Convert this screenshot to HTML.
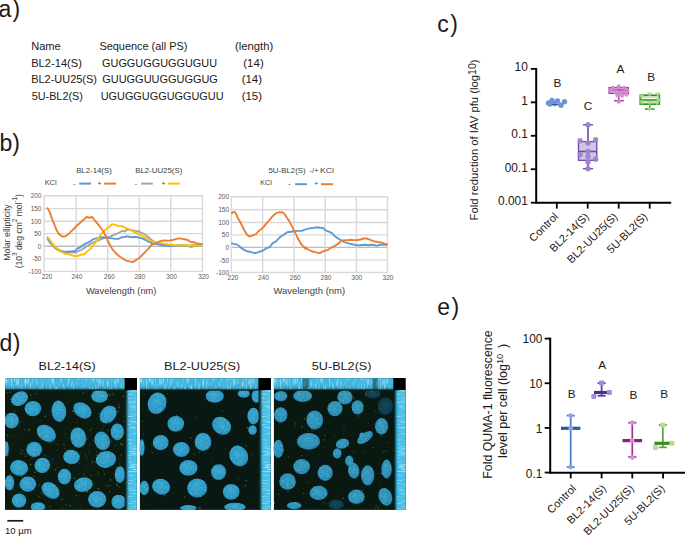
<!DOCTYPE html><html><head><meta charset="utf-8"><style>html,body{margin:0;padding:0;background:#fff;overflow:hidden}svg{display:block}</style></head><body><svg width="685" height="536" viewBox="0 0 685 536" font-family='"Liberation Sans", sans-serif'><rect width="685" height="536" fill="#fff"/><text x="-1.5" y="16.8" font-size="23" fill="#231815">a<tspan dx="1.3">)</tspan></text><text x="-0.5" y="151.3" font-size="23" fill="#231815">b<tspan dx="0">)</tspan></text><text x="437.3" y="31.6" font-size="23" fill="#231815">c<tspan dx="1.4">)</tspan></text><text x="-0.5" y="350.7" font-size="23" fill="#231815">d<tspan dx="0.5">)</tspan></text><text x="437.3" y="314.8" font-size="23" fill="#231815">e<tspan dx="1.5">)</tspan></text><text x="31.21" y="50.1" font-size="10.4" textLength="29.51" lengthAdjust="spacingAndGlyphs" fill="#231815" >Name</text><text x="99.41" y="50.1" font-size="10.4" textLength="88.01" lengthAdjust="spacingAndGlyphs" fill="#231815" >Sequence (all PS)</text><text x="235.13" y="50.1" font-size="10.4" textLength="38.06" lengthAdjust="spacingAndGlyphs" fill="#231815" >(length)</text><text x="31.21" y="66.9" font-size="10.4" textLength="50.69" lengthAdjust="spacingAndGlyphs" fill="#231815" >BL2-14(S)</text><text x="102.06" y="66.9" font-size="10.4" textLength="114.97" lengthAdjust="spacingAndGlyphs" fill="#231815" >GUGGUGGUGGUGUU</text><text x="243.31" y="66.9" font-size="10.4" textLength="20.42" lengthAdjust="spacingAndGlyphs" fill="#231815" >(14)</text><text x="31.22" y="83.3" font-size="10.4" textLength="65.76" lengthAdjust="spacingAndGlyphs" fill="#231815" >BL2-UU25(S)</text><text x="102.25" y="83.3" font-size="10.4" textLength="115.62" lengthAdjust="spacingAndGlyphs" fill="#231815" >GUUGGUUGGUGGUG</text><text x="241.71" y="83.3" font-size="10.4" textLength="20.31" lengthAdjust="spacingAndGlyphs" fill="#231815" >(14)</text><text x="31.67" y="100.2" font-size="10.4" textLength="51.23" lengthAdjust="spacingAndGlyphs" fill="#231815" >5U-BL2(S)</text><text x="100.68" y="100.2" font-size="10.4" textLength="122.86" lengthAdjust="spacingAndGlyphs" fill="#231815" >UGUGGUGGUGGUGUU</text><text x="241.71" y="100.2" font-size="10.4" textLength="20.31" lengthAdjust="spacingAndGlyphs" fill="#231815" >(15)</text><line x1="43.4" y1="195.80" x2="203.1" y2="195.80" stroke="#d9d9d9" stroke-width="1.4"/><line x1="43.4" y1="208.65" x2="203.1" y2="208.65" stroke="#d9d9d9" stroke-width="1.4"/><line x1="43.4" y1="221.25" x2="203.1" y2="221.25" stroke="#d9d9d9" stroke-width="1.4"/><line x1="43.4" y1="233.65" x2="203.1" y2="233.65" stroke="#d9d9d9" stroke-width="1.4"/><line x1="43.4" y1="246.25" x2="203.1" y2="246.25" stroke="#bdbdbd" stroke-width="1.4"/><line x1="43.4" y1="258.90" x2="203.1" y2="258.90" stroke="#d9d9d9" stroke-width="1.4"/><line x1="43.4" y1="271.35" x2="203.1" y2="271.35" stroke="#d9d9d9" stroke-width="1.4"/><line x1="44.10" y1="195.8" x2="44.10" y2="271.35" stroke="#d9d9d9" stroke-width="1.4"/><line x1="76.20" y1="195.8" x2="76.20" y2="271.35" stroke="#d9d9d9" stroke-width="1.4"/><line x1="107.70" y1="195.8" x2="107.70" y2="271.35" stroke="#d9d9d9" stroke-width="1.4"/><line x1="139.25" y1="195.8" x2="139.25" y2="271.35" stroke="#d9d9d9" stroke-width="1.4"/><line x1="170.70" y1="195.8" x2="170.70" y2="271.35" stroke="#d9d9d9" stroke-width="1.4"/><line x1="202.40" y1="195.8" x2="202.40" y2="271.35" stroke="#d9d9d9" stroke-width="1.4"/><text x="41.4" y="198.20" font-size="6.4" fill="#595959" text-anchor="end">200</text><text x="41.4" y="211.05" font-size="6.4" fill="#595959" text-anchor="end">150</text><text x="41.4" y="223.65" font-size="6.4" fill="#595959" text-anchor="end">100</text><text x="41.4" y="236.05" font-size="6.4" fill="#595959" text-anchor="end">50</text><text x="41.4" y="248.65" font-size="6.4" fill="#595959" text-anchor="end">0</text><text x="41.4" y="261.30" font-size="6.4" fill="#595959" text-anchor="end">-50</text><text x="41.4" y="273.75" font-size="6.4" fill="#595959" text-anchor="end">-100</text><text x="47.10" y="279.3" font-size="6.4" fill="#595959" text-anchor="middle">220</text><text x="76.90" y="279.3" font-size="6.4" fill="#595959" text-anchor="middle">240</text><text x="109.40" y="279.3" font-size="6.4" fill="#595959" text-anchor="middle">260</text><text x="139.90" y="279.3" font-size="6.4" fill="#595959" text-anchor="middle">280</text><text x="171.50" y="279.3" font-size="6.4" fill="#595959" text-anchor="middle">300</text><text x="203.50" y="279.3" font-size="6.4" fill="#595959" text-anchor="middle">320</text><line x1="230.70000000000002" y1="196.80" x2="388.2" y2="196.80" stroke="#d9d9d9" stroke-width="1.4"/><line x1="230.70000000000002" y1="209.80" x2="388.2" y2="209.80" stroke="#d9d9d9" stroke-width="1.4"/><line x1="230.70000000000002" y1="222.50" x2="388.2" y2="222.50" stroke="#d9d9d9" stroke-width="1.4"/><line x1="230.70000000000002" y1="234.90" x2="388.2" y2="234.90" stroke="#d9d9d9" stroke-width="1.4"/><line x1="230.70000000000002" y1="247.40" x2="388.2" y2="247.40" stroke="#bdbdbd" stroke-width="1.4"/><line x1="230.70000000000002" y1="260.10" x2="388.2" y2="260.10" stroke="#d9d9d9" stroke-width="1.4"/><line x1="230.70000000000002" y1="272.50" x2="388.2" y2="272.50" stroke="#d9d9d9" stroke-width="1.4"/><line x1="231.40" y1="196.8" x2="231.40" y2="272.5" stroke="#d9d9d9" stroke-width="1.4"/><line x1="262.70" y1="196.8" x2="262.70" y2="272.5" stroke="#d9d9d9" stroke-width="1.4"/><line x1="294.00" y1="196.8" x2="294.00" y2="272.5" stroke="#d9d9d9" stroke-width="1.4"/><line x1="325.20" y1="196.8" x2="325.20" y2="272.5" stroke="#d9d9d9" stroke-width="1.4"/><line x1="356.40" y1="196.8" x2="356.40" y2="272.5" stroke="#d9d9d9" stroke-width="1.4"/><line x1="387.50" y1="196.8" x2="387.50" y2="272.5" stroke="#d9d9d9" stroke-width="1.4"/><text x="229.2" y="199.20" font-size="6.6" fill="#595959" text-anchor="end">200</text><text x="229.2" y="212.20" font-size="6.6" fill="#595959" text-anchor="end">150</text><text x="229.2" y="224.90" font-size="6.6" fill="#595959" text-anchor="end">100</text><text x="229.2" y="237.30" font-size="6.6" fill="#595959" text-anchor="end">50</text><text x="229.2" y="249.80" font-size="6.6" fill="#595959" text-anchor="end">0</text><text x="229.2" y="262.50" font-size="6.6" fill="#595959" text-anchor="end">-50</text><text x="229.2" y="274.90" font-size="6.6" fill="#595959" text-anchor="end">-100</text><text x="233.00" y="280.4" font-size="6.6" fill="#595959" text-anchor="middle">220</text><text x="263.40" y="280.4" font-size="6.6" fill="#595959" text-anchor="middle">240</text><text x="295.30" y="280.4" font-size="6.6" fill="#595959" text-anchor="middle">260</text><text x="326.00" y="280.4" font-size="6.6" fill="#595959" text-anchor="middle">280</text><text x="356.80" y="280.4" font-size="6.6" fill="#595959" text-anchor="middle">300</text><text x="388.00" y="280.4" font-size="6.6" fill="#595959" text-anchor="middle">320</text><polyline points="47.14,238.37 49.51,242.33 52.69,245.82 55.86,248.67 59.03,250.74 62.2,251.85 65.37,252.32 68.54,252.32 71.72,252.32 74.89,252.64 78.06,251.05 81.23,249.94 84.4,247.88 87.57,245.82 90.75,243.92 93.92,242.01 97.09,240.75 100.26,239.64 103.43,238.37 106.6,237.57 109.77,236.94 112.95,235.2 116.12,234.08 119.29,232.5 122.46,230.91 124.92,231.55 126.34,229.96 129.51,229.64 132.69,230.44 135.86,230.91 139.03,231.55 142.2,233.13 145.37,234.72 148.54,237.26 151.72,239.95 154.89,242.33 158.06,243.6 161.23,244.23 164.4,245.19 167.57,245.5 172.33,245.5 177.09,245.19 183.43,245.5 189.77,245.82 194.53,244.71 199.29,244.23 202.46,244.71" fill="none" stroke="#a5a5a5" stroke-width="1.9" stroke-linejoin="round"/><polyline points="47.14,236.78 49.51,240.75 52.69,244.71 55.86,247.88 59.03,249.94 62.2,251.05 65.37,251.85 68.54,251.53 71.72,251.53 74.89,251.05 77.27,248.67 80.44,247.09 83.61,244.71 86.78,243.12 89.95,241.54 93.12,239.16 96.3,238.37 99.47,237.57 102.64,237.26 105.81,237.57 108.98,238.05 112.15,238.37 115.33,238.84 118.5,238.84 121.67,237.26 124.92,237.1 126.34,236.31 129.51,236.78 132.69,237.26 135.86,236.78 139.03,237.57 142.2,238.37 145.37,239.95 148.54,241.54 151.72,243.12 154.89,243.92 158.06,244.39 161.23,245.19 164.4,245.5 167.57,245.82 170.75,245.98 175.5,245.5 180.26,245.5 186.6,245.82 191.36,246.77 194.53,245.82 199.29,245.5 202.46,245.5" fill="none" stroke="#5b9bd5" stroke-width="1.9" stroke-linejoin="round"/><polyline points="47.14,237.26 49.51,239.16 52.69,243.92 55.86,247.41 59.03,249.94 62.2,252.32 65.37,253.91 68.54,254.22 71.72,255.02 74.89,256.29 78.06,255.81 81.23,254.7 84.4,254.22 87.57,251.05 90.75,248.67 93.92,244.71 97.09,239.95 100.26,235.2 103.43,231.55 106.6,228.85 109.77,226.47 112.15,224.09 115.33,224.89 118.5,226.16 121.67,226.16 124.92,227.58 126.34,228.06 129.51,229.33 132.69,231.23 135.86,232.82 139.03,234.4 142.2,235.99 145.37,237.57 148.54,239.48 151.72,241.06 154.89,242.01 158.06,242.65 161.23,243.12 164.4,243.6 167.57,244.23 172.33,244.71 177.09,245.19 183.43,245.19 189.77,245.82 192.95,245.5 196.12,245.19 199.29,245.5 202.46,245.82" fill="none" stroke="#ffc000" stroke-width="1.9" stroke-linejoin="round"/><polyline points="47.14,207.44 49.51,211.41 51.89,218.54 54.27,224.09 56.65,230.44 59.03,234.08 62.2,236.46 65.37,236.31 68.54,234.08 71.72,230.91 74.89,227.74 77.27,225.2 80.44,222.51 83.61,219.81 86.46,216.96 89.16,217.75 92.33,216.96 94.71,220.45 97.09,222.98 100.26,227.27 103.43,231.55 105.81,235.99 108.19,241.54 110.57,246.3 112.95,249.94 116.12,253.43 119.29,256.29 122.46,258.19 124.92,260.09 126.34,260.57 129.51,261.36 132.69,262.15 135.86,260.09 139.03,258.19 142.2,255.02 145.37,251.85 148.54,248.67 151.72,244.71 154.09,243.6 157.27,242.65 160.44,241.06 163.61,240.43 166.78,240.75 169.95,240.43 173.12,239.95 176.3,238.84 179.47,238.37 182.64,238.84 185.81,239.48 188.98,240.75 191.36,242.33 193.74,242.01 196.12,243.12 199.29,243.6 202.46,243.92" fill="none" stroke="#ed7d31" stroke-width="1.9" stroke-linejoin="round"/><polyline points="231.34,243.12 233.72,243.92 236.1,244.23 238.48,245.5 240.86,247.41 243.24,249.47 245.62,250.58 247.99,251.53 250.37,251.85 252.75,252.64 255.13,252.96 257.51,252.32 259.89,251.53 262.27,251.05 264.64,249.47 267.02,247.88 269.4,247.41 270.99,245.5 272.57,243.12 275.75,241.54 278.12,239.16 280.5,236.78 282.88,235.2 285.26,233.61 287.64,232.02 290.02,232.02 292.4,231.55 294.77,231.23 297.15,230.91 299.53,230.91 301.91,230.91 304.29,229.96 305.0,229.64 307.38,228.85 309.76,228.38 312.93,228.06 316.89,227.27 320.07,227.74 323.24,228.06 325.62,230.44 328.79,231.55 331.96,233.13 334.34,235.67 336.72,237.57 339.89,239.48 343.06,241.54 346.23,242.65 349.4,243.6 352.57,244.23 355.75,245.19 360.5,245.19 365.26,244.71 368.43,245.19 371.6,244.71 374.77,245.19 377.15,245.82 379.53,244.71 382.7,244.71 385.88,244.87 387.46,245.19" fill="none" stroke="#5b9bd5" stroke-width="1.9" stroke-linejoin="round"/><polyline points="231.34,213.79 232.93,212.2 234.51,211.88 236.1,213.79 237.69,217.75 240.07,221.72 242.44,226.47 244.82,231.23 247.2,234.88 248.79,236.31 251.17,235.99 253.54,235.2 255.92,234.08 258.3,231.55 261.47,228.85 263.85,226.79 266.23,223.62 269.4,220.13 272.57,216.17 275.75,213.47 278.92,212.2 282.09,212.2 284.47,213.79 286.85,217.75 289.22,220.92 291.6,225.68 293.98,230.44 296.36,235.2 298.74,239.95 301.12,243.92 303.5,246.77 305.88,248.99 305.0,247.09 307.38,248.99 309.76,250.26 312.93,251.53 316.1,252.32 320.07,253.11 322.44,251.53 324.82,250.58 327.2,250.26 329.58,248.67 331.96,247.09 335.13,245.82 338.3,243.6 341.47,240.75 344.64,240.11 347.82,240.11 350.99,239.79 354.16,240.11 357.33,239.95 360.5,239.48 363.67,238.53 366.05,238.37 368.43,239.16 371.6,240.43 374.77,241.54 377.95,242.01 381.12,242.33 384.29,243.6 387.46,244.23" fill="none" stroke="#ed7d31" stroke-width="1.9" stroke-linejoin="round"/><text x="76.17" y="172.9" font-size="7.4" textLength="35.62" lengthAdjust="spacingAndGlyphs" fill="#404040" >BL2-14(S)</text><text x="135.17" y="172.9" font-size="7.4" textLength="47.12" lengthAdjust="spacingAndGlyphs" fill="#404040" >BL2-UU25(S)</text><text x="268.48" y="173.1" font-size="7.4" textLength="37.22" lengthAdjust="spacingAndGlyphs" fill="#404040" >5U-BL2(S)</text><text x="309.55" y="173.1" font-size="7.4" textLength="9.23" lengthAdjust="spacingAndGlyphs" fill="#404040" >-/+</text><text x="320.01" y="173.1" font-size="7.4" textLength="13.97" lengthAdjust="spacingAndGlyphs" fill="#404040" >KCl</text><text x="44.71" y="185.4" font-size="6.6" textLength="11.88" lengthAdjust="spacingAndGlyphs" fill="#404040" >KCl</text><text x="260.33" y="185.2" font-size="6.6" textLength="11.55" lengthAdjust="spacingAndGlyphs" fill="#404040" >KCl</text><text x="74.2" y="185.6" font-size="6.8" fill="#404040" text-anchor="middle">-</text><line x1="79.2" y1="183.6" x2="91" y2="183.6" stroke="#5b9bd5" stroke-width="2"/><text x="99.5" y="185.6" font-size="6.8" fill="#404040" text-anchor="middle">+</text><line x1="104.2" y1="183.6" x2="116" y2="183.6" stroke="#ed7d31" stroke-width="2"/><text x="136" y="185.6" font-size="6.8" fill="#404040" text-anchor="middle">-</text><line x1="141.1" y1="183.6" x2="152.8" y2="183.6" stroke="#a5a5a5" stroke-width="2"/><text x="163.4" y="185.6" font-size="6.8" fill="#404040" text-anchor="middle">+</text><line x1="168" y1="183.6" x2="179.7" y2="183.6" stroke="#ffc000" stroke-width="2"/><text x="289.3" y="186.2" font-size="6.8" fill="#404040" text-anchor="middle">-</text><line x1="295.2" y1="184.2" x2="307" y2="184.2" stroke="#5b9bd5" stroke-width="2"/><text x="316.3" y="186.2" font-size="6.8" fill="#404040" text-anchor="middle">+</text><line x1="321" y1="184.2" x2="332.9" y2="184.2" stroke="#ed7d31" stroke-width="2"/><text x="85.95" y="294.2" font-size="9.2" textLength="70.52" lengthAdjust="spacingAndGlyphs" fill="#404040" >Wavelength (nm)</text><text x="273.45" y="293.6" font-size="9.2" textLength="71.63" lengthAdjust="spacingAndGlyphs" fill="#404040" >Wavelength (nm)</text><text transform="translate(9.8,232.6) rotate(-90)" font-size="8.6" fill="#404040" text-anchor="middle">Molar ellipticity</text><text transform="translate(22.1,231.2) rotate(-90)" font-size="8.5" fill="#404040" text-anchor="middle">(10<tspan font-size="6.4" dy="-4.8">3</tspan><tspan dy="4.8"> deg cm</tspan><tspan font-size="6.4" dy="-4.8">2</tspan><tspan dy="4.8"> mol</tspan><tspan font-size="6.4" dy="-4.8">-1</tspan><tspan dy="4.8">)</tspan></text><line x1="536.2" y1="67.9" x2="536.2" y2="203.7" stroke="#000" stroke-width="2"/><line x1="535.2" y1="202.7" x2="671.2" y2="202.7" stroke="#000" stroke-width="2"/><line x1="530.8" y1="68.90" x2="536.2" y2="68.90" stroke="#000" stroke-width="1.8"/><text x="527.8" y="71.40" font-size="11.9" fill="#231815" text-anchor="end">10</text><line x1="530.8" y1="102.35" x2="536.2" y2="102.35" stroke="#000" stroke-width="1.8"/><text x="527.8" y="104.85" font-size="11.9" fill="#231815" text-anchor="end">1</text><line x1="530.8" y1="135.80" x2="536.2" y2="135.80" stroke="#000" stroke-width="1.8"/><text x="527.8" y="138.30" font-size="11.9" fill="#231815" text-anchor="end">0.1</text><line x1="530.8" y1="169.25" x2="536.2" y2="169.25" stroke="#000" stroke-width="1.8"/><text x="527.8" y="171.75" font-size="11.9" fill="#231815" text-anchor="end">00.1</text><line x1="530.8" y1="202.70" x2="536.2" y2="202.70" stroke="#000" stroke-width="1.8"/><text x="527.8" y="205.20" font-size="11.9" fill="#231815" text-anchor="end">0.001</text><line x1="556.8" y1="202.7" x2="556.8" y2="208.6" stroke="#000" stroke-width="1.8"/><line x1="587.7" y1="202.7" x2="587.7" y2="208.6" stroke="#000" stroke-width="1.8"/><line x1="618.7" y1="202.7" x2="618.7" y2="208.6" stroke="#000" stroke-width="1.8"/><line x1="649.7" y1="202.7" x2="649.7" y2="208.6" stroke="#000" stroke-width="1.8"/><text transform="translate(558.70,217.3) rotate(-45)" font-size="11.0" fill="#231815" text-anchor="end">Control</text><text transform="translate(589.50,217.3) rotate(-45)" font-size="11.0" fill="#231815" text-anchor="end">BL2-14(S)</text><text transform="translate(618.20,217.3) rotate(-45)" font-size="11.0" fill="#231815" text-anchor="end">BL2-UU25(S)</text><text transform="translate(648.10,217.3) rotate(-45)" font-size="11.0" fill="#231815" text-anchor="end">5U-BL2(S)</text><text transform="translate(478,139.9) rotate(-90)" font-size="11.3" fill="#231815" text-anchor="middle">Fold reduction of IAV pfu (log<tspan font-size="10.6" dy="-2.2">10</tspan><tspan dy="2.2">)</tspan></text><text x="557.5" y="86.9" font-size="11.8" fill="#231815" text-anchor="middle">B</text><text x="587.9" y="109.6" font-size="11.8" fill="#231815" text-anchor="middle">C</text><text x="620.5" y="72.7" font-size="11.8" fill="#231815" text-anchor="middle">A</text><text x="651.2" y="80.8" font-size="11.8" fill="#231815" text-anchor="middle">B</text><circle cx="548.5" cy="103" r="2.7" fill="#6f93d0"/><circle cx="552" cy="100.5" r="2.7" fill="#6f93d0"/><circle cx="557.5" cy="101" r="2.7" fill="#6f93d0"/><circle cx="561" cy="105.3" r="2.7" fill="#6f93d0"/><circle cx="564.5" cy="101.8" r="2.7" fill="#6f93d0"/><circle cx="555" cy="103.5" r="2.7" fill="#6f93d0"/><circle cx="550" cy="104" r="2.7" fill="#6f93d0"/><line x1="552" y1="104.6" x2="558.5" y2="104.6" stroke="#2d4f96" stroke-width="1"/><line x1="588" y1="124.8" x2="588" y2="168.7" stroke="#6a4aa8" stroke-width="1.6"/><rect x="578.5" y="141.6" width="18.3" height="18.7" fill="#d3c5ea" stroke="#6a4aa8" stroke-width="1.3"/><line x1="578.5" y1="151.5" x2="596.8" y2="151.5" stroke="#6a4aa8" stroke-width="1.6"/><line x1="583" y1="124.8" x2="593" y2="124.8" stroke="#6a4aa8" stroke-width="1.4"/><line x1="583" y1="168.7" x2="593" y2="168.7" stroke="#6a4aa8" stroke-width="1.4"/><circle cx="588" cy="124.8" r="2.7" fill="#9d82cc" opacity="0.95"/><circle cx="580.1" cy="140.7" r="2.7" fill="#9d82cc" opacity="0.95"/><circle cx="588" cy="143.1" r="2.7" fill="#9d82cc" opacity="0.95"/><circle cx="595.6" cy="139.7" r="2.7" fill="#9d82cc" opacity="0.95"/><circle cx="588" cy="151.5" r="2.7" fill="#9d82cc" opacity="0.95"/><circle cx="580.1" cy="154.7" r="2.7" fill="#9d82cc" opacity="0.95"/><circle cx="588" cy="156.5" r="2.7" fill="#9d82cc" opacity="0.95"/><circle cx="595.6" cy="159.3" r="2.7" fill="#9d82cc" opacity="0.95"/><circle cx="588" cy="162.1" r="2.7" fill="#9d82cc" opacity="0.95"/><circle cx="588" cy="168.7" r="2.7" fill="#9d82cc" opacity="0.95"/><rect x="609" y="87.5" width="19.5" height="6" fill="#d9a2d7" stroke="#a8399f" stroke-width="1.1"/><line x1="609" y1="90" x2="628.5" y2="90" stroke="#a8399f" stroke-width="1.4"/><line x1="618.7" y1="93.5" x2="618.7" y2="100.7" stroke="#a8399f" stroke-width="1.4"/><line x1="614" y1="100.7" x2="624" y2="100.7" stroke="#a8399f" stroke-width="1.4"/><circle cx="613" cy="88" r="2.2" fill="#cf8ccc" opacity="0.9"/><circle cx="618.7" cy="86.5" r="2.2" fill="#cf8ccc" opacity="0.9"/><circle cx="624" cy="88" r="2.2" fill="#cf8ccc" opacity="0.9"/><circle cx="627" cy="90.5" r="2.2" fill="#cf8ccc" opacity="0.9"/><circle cx="611" cy="90.5" r="2.2" fill="#cf8ccc" opacity="0.9"/><circle cx="616" cy="92" r="2.2" fill="#cf8ccc" opacity="0.9"/><circle cx="621" cy="92.5" r="2.2" fill="#cf8ccc" opacity="0.9"/><circle cx="618.7" cy="101.5" r="2.2" fill="#cf8ccc" opacity="0.9"/><circle cx="617.5" cy="95.3" r="2.2" fill="#cf8ccc" opacity="0.9"/><circle cx="622" cy="95.5" r="2.2" fill="#cf8ccc" opacity="0.9"/><circle cx="626.5" cy="94.5" r="2.2" fill="#cf8ccc" opacity="0.9"/><rect x="640.2" y="95.2" width="19.2" height="9" fill="#c8eab0" stroke="#3f8f30" stroke-width="1.6"/><line x1="641" y1="98.6" x2="659" y2="98.6" stroke="#eef9e6" stroke-width="1"/><line x1="641" y1="100" x2="659" y2="100" stroke="#3f8f30" stroke-width="1.5"/><line x1="649.7" y1="104.2" x2="649.7" y2="109" stroke="#3f8f30" stroke-width="1.4"/><line x1="645" y1="109" x2="654.5" y2="109" stroke="#3f8f30" stroke-width="1.6"/><path d="M647.1,92.6 L652.3000000000001,92.6 L649.7,97.0 Z" fill="#a6d98a" opacity="0.95"/><path d="M655.1999999999999,92.6 L660.4,92.6 L657.8,97.0 Z" fill="#a6d98a" opacity="0.95"/><path d="M638.9,95 L644.1,95 L641.5,99.4 Z" fill="#a6d98a" opacity="0.95"/><path d="M655.9,98.5 L661.1,98.5 L658.5,102.9 Z" fill="#a6d98a" opacity="0.95"/><path d="M638.9,100.5 L644.1,100.5 L641.5,104.9 Z" fill="#a6d98a" opacity="0.95"/><path d="M647.1,101.2 L652.3000000000001,101.2 L649.7,105.60000000000001 Z" fill="#a6d98a" opacity="0.95"/><path d="M654.4,101.5 L659.6,101.5 L657,105.9 Z" fill="#a6d98a" opacity="0.95"/><path d="M647.1,107.4 L652.3000000000001,107.4 L649.7,111.80000000000001 Z" fill="#a6d98a" opacity="0.95"/><line x1="550.2" y1="337.6" x2="550.2" y2="473.5" stroke="#000" stroke-width="2"/><line x1="549.2" y1="472.8" x2="685" y2="472.8" stroke="#000" stroke-width="2"/><line x1="544.7" y1="338.60" x2="550.2" y2="338.60" stroke="#000" stroke-width="1.8"/><text x="542.4" y="342.6" font-size="11.9" fill="#231815" text-anchor="end">100</text><line x1="544.7" y1="383.25" x2="550.2" y2="383.25" stroke="#000" stroke-width="1.8"/><text x="542.4" y="388.0" font-size="11.9" fill="#231815" text-anchor="end">10</text><line x1="544.7" y1="427.90" x2="550.2" y2="427.90" stroke="#000" stroke-width="1.8"/><text x="542.4" y="432.9" font-size="11.9" fill="#231815" text-anchor="end">1</text><line x1="544.7" y1="472.55" x2="550.2" y2="472.55" stroke="#000" stroke-width="1.8"/><text x="542.4" y="477.7" font-size="11.9" fill="#231815" text-anchor="end">0.1</text><line x1="570.7" y1="472.8" x2="570.7" y2="478.4" stroke="#000" stroke-width="1.8"/><line x1="601.6" y1="472.8" x2="601.6" y2="478.4" stroke="#000" stroke-width="1.8"/><line x1="632.3" y1="472.8" x2="632.3" y2="478.4" stroke="#000" stroke-width="1.8"/><line x1="663.1" y1="472.8" x2="663.1" y2="478.4" stroke="#000" stroke-width="1.8"/><text transform="translate(576.70,489.2) rotate(-45)" font-size="11.0" fill="#231815" text-anchor="end">Control</text><text transform="translate(606.80,489.2) rotate(-45)" font-size="11.0" fill="#231815" text-anchor="end">BL2-14(S)</text><text transform="translate(634.60,489.2) rotate(-45)" font-size="11.0" fill="#231815" text-anchor="end">BL2-UU25(S)</text><text transform="translate(665.40,489.2) rotate(-45)" font-size="11.0" fill="#231815" text-anchor="end">5U-BL2(S)</text><text transform="translate(491.5,404.5) rotate(-90)" font-size="12.3" fill="#231815" text-anchor="middle">Fold QUMA-1 fluorescence</text><text transform="translate(507.4,400.8) rotate(-90)" font-size="12.5" fill="#231815" text-anchor="middle">level per cell (log<tspan font-size="9.4" dy="-4.3">10</tspan><tspan dy="4.3" dx="2.3"> )</tspan></text><text x="571.6" y="398" font-size="11.8" fill="#231815" text-anchor="middle">B</text><text x="602.1" y="368.5" font-size="11.8" fill="#231815" text-anchor="middle">A</text><text x="633.5" y="399.2" font-size="11.8" fill="#231815" text-anchor="middle">B</text><text x="664.3" y="398" font-size="11.8" fill="#231815" text-anchor="middle">B</text><line x1="570.7" y1="415.6" x2="570.7" y2="467.1" stroke="#4a7bc4" stroke-width="1.7"/><line x1="566.7" y1="415.6" x2="574.7" y2="415.6" stroke="#4a7bc4" stroke-width="1.7"/><line x1="566.7" y1="467.1" x2="574.7" y2="467.1" stroke="#4a7bc4" stroke-width="1.7"/><line x1="561.0" y1="428.3" x2="580.4000000000001" y2="428.3" stroke="#2b589e" stroke-width="3.2"/><circle cx="570.7" cy="415.6" r="2.4" fill="#86a9de"/><circle cx="570.7" cy="428.3" r="2.4" fill="#86a9de"/><circle cx="570.7" cy="467.1" r="2.4" fill="#86a9de"/><line x1="601.6" y1="383" x2="601.6" y2="395.8" stroke="#5a34a0" stroke-width="1.7"/><line x1="597.6" y1="383" x2="605.6" y2="383" stroke="#5a34a0" stroke-width="1.7"/><line x1="597.6" y1="395.8" x2="605.6" y2="395.8" stroke="#5a34a0" stroke-width="1.7"/><line x1="594.0" y1="392.5" x2="609.2" y2="392.5" stroke="#4f2a96" stroke-width="3.2"/><rect x="599.1" y="380.5" width="5" height="5" rx="1" fill="#a58cd6"/><rect x="606.9" y="390.0" width="5" height="5" rx="1" fill="#a58cd6"/><rect x="591.3" y="394.0" width="5" height="5" rx="1" fill="#a58cd6"/><line x1="632.3" y1="422.7" x2="632.3" y2="457" stroke="#a0309c" stroke-width="1.7"/><line x1="628.3" y1="422.7" x2="636.3" y2="422.7" stroke="#a0309c" stroke-width="1.7"/><line x1="628.3" y1="457" x2="636.3" y2="457" stroke="#a0309c" stroke-width="1.7"/><line x1="622.5" y1="440.6" x2="642.0999999999999" y2="440.6" stroke="#8a1f88" stroke-width="3.2"/><circle cx="632.3" cy="422.7" r="2.4" fill="#d590d4"/><circle cx="632.3" cy="440.6" r="2.4" fill="#d590d4"/><circle cx="632.3" cy="457.5" r="2.4" fill="#d590d4"/><line x1="662.8" y1="425" x2="662.8" y2="447.4" stroke="#58a03c" stroke-width="1.7"/><line x1="658.8" y1="425" x2="666.8" y2="425" stroke="#58a03c" stroke-width="1.7"/><line x1="658.8" y1="447.4" x2="666.8" y2="447.4" stroke="#58a03c" stroke-width="1.7"/><line x1="654.4" y1="443.3" x2="671.1999999999999" y2="443.3" stroke="#3d8a2a" stroke-width="3.2"/><rect x="660.3" y="422.5" width="5" height="5" rx="1" fill="#b4e08c"/><rect x="669.5" y="440.8" width="5" height="5" rx="1" fill="#b4e08c"/><rect x="652.9" y="445.1" width="5" height="5" rx="1" fill="#b4e08c"/><defs><radialGradient id="nuc" cx="0.45" cy="0.42" r="0.62"><stop offset="0" stop-color="#32a3ce"/><stop offset="0.75" stop-color="#2996c2"/><stop offset="1" stop-color="#1e80ac"/></radialGradient><radialGradient id="nuc3" cx="0.45" cy="0.42" r="0.62"><stop offset="0" stop-color="#3099c0"/><stop offset="0.75" stop-color="#278bb2"/><stop offset="1" stop-color="#1b7398"/></radialGradient><radialGradient id="nucd" cx="0.5" cy="0.5" r="0.6"><stop offset="0" stop-color="#114b5e"/><stop offset="1" stop-color="#0d3544"/></radialGradient><linearGradient id="tops" x1="0" y1="0" x2="0" y2="1"><stop offset="0" stop-color="#1f6f8c"/><stop offset="0.07" stop-color="#46b9e0"/><stop offset="0.6" stop-color="#42b4dc"/><stop offset="0.8" stop-color="#2f9fc8"/><stop offset="0.93" stop-color="#0f3a3a"/><stop offset="1" stop-color="#0b1b12"/></linearGradient><linearGradient id="rts" x1="0" y1="0" x2="1" y2="0"><stop offset="0" stop-color="#0b1b12"/><stop offset="0.12" stop-color="#113a3e"/><stop offset="0.25" stop-color="#2b9cc6"/><stop offset="0.4" stop-color="#48bce3"/><stop offset="0.92" stop-color="#4dc1e6"/><stop offset="1" stop-color="#2a8fb8"/></linearGradient><filter id="grain" x="0" y="0" width="1" height="1"><feTurbulence type="fractalNoise" baseFrequency="0.45" numOctaves="2" seed="4"/><feColorMatrix values="0 0 0 0 0.75  0 0 0 0 0.95  0 0 0 0 1  2.2 0 0 0 -0.9"/><feComposite in2="SourceGraphic" operator="in"/></filter><filter id="spk" x="0" y="0" width="1" height="1"><feTurbulence type="fractalNoise" baseFrequency="0.32" numOctaves="1" seed="11"/><feColorMatrix values="0 0 0 0 0.55  0 0 0 0 0.55  0 0 0 0 0.1  6 0 0 0 -3.75"/></filter><filter id="vst" x="0" y="0" width="1" height="1"><feTurbulence type="fractalNoise" baseFrequency="0.75 0.12" numOctaves="2" seed="5"/><feColorMatrix values="0 0 0 0 0.8  0 0 0 0 0.96  0 0 0 0 1  3.2 0 0 0 -1.55"/></filter><filter id="hst" x="0" y="0" width="1" height="1"><feTurbulence type="fractalNoise" baseFrequency="0.12 0.75" numOctaves="2" seed="8"/><feColorMatrix values="0 0 0 0 0.8  0 0 0 0 0.96  0 0 0 0 1  3.2 0 0 0 -1.55"/></filter><filter id="soft"><feGaussianBlur stdDeviation="0.35"/></filter></defs><svg x="5" y="377.9" width="132" height="132" viewBox="0 0 132 132" overflow="hidden"><rect width="132" height="132" fill="#0b1b12"/><g filter="url(#soft)"><ellipse cx="14.6" cy="20.7" rx="8.93" ry="6.84" transform="rotate(-30 14.6 20.7)" fill="url(#nuc)"/><ellipse cx="28" cy="30.7" rx="8.36" ry="7.60" transform="rotate(0 28 30.7)" fill="url(#nuc)"/><ellipse cx="53.9" cy="33.3" rx="7.22" ry="10.73" transform="rotate(-5 53.9 33.3)" fill="url(#nuc)"/><ellipse cx="77.4" cy="32.5" rx="9.97" ry="7.22" transform="rotate(35 77.4 32.5)" fill="url(#nuc)"/><ellipse cx="94.7" cy="18.2" rx="8.36" ry="6.65" transform="rotate(0 94.7 18.2)" fill="url(#nuc)"/><ellipse cx="103.1" cy="36.7" rx="7.60" ry="9.79" transform="rotate(40 103.1 36.7)" fill="url(#nuc)"/><ellipse cx="6.6" cy="42.8" rx="7.22" ry="7.89" transform="rotate(0 6.6 42.8)" fill="url(#nuc)"/><ellipse cx="41.3" cy="55.4" rx="10.45" ry="7.60" transform="rotate(35 41.3 55.4)" fill="url(#nuc)"/><ellipse cx="73.3" cy="59.7" rx="7.89" ry="10.26" transform="rotate(-10 73.3 59.7)" fill="url(#nuc)"/><ellipse cx="97.2" cy="63" rx="7.60" ry="9.50" transform="rotate(-20 97.2 63)" fill="url(#nuc)"/><ellipse cx="112.3" cy="53.9" rx="6.65" ry="8.36" transform="rotate(0 112.3 53.9)" fill="url(#nuc)"/><ellipse cx="29.2" cy="71.5" rx="7.89" ry="7.60" transform="rotate(0 29.2 71.5)" fill="url(#nuc)"/><ellipse cx="66.5" cy="79.1" rx="8.36" ry="7.22" transform="rotate(10 66.5 79.1)" fill="url(#nuc)"/><ellipse cx="101" cy="81.6" rx="10.26" ry="8.36" transform="rotate(-10 101 81.6)" fill="url(#nuc)"/><ellipse cx="14.1" cy="90" rx="9.12" ry="7.89" transform="rotate(10 14.1 90)" fill="url(#nuc)"/><ellipse cx="37.3" cy="87.4" rx="7.89" ry="7.60" transform="rotate(-20 37.3 87.4)" fill="url(#nuc)"/><ellipse cx="59.5" cy="98.8" rx="6.65" ry="7.89" transform="rotate(0 59.5 98.8)" fill="url(#nuc)"/><ellipse cx="78.3" cy="106.8" rx="9.50" ry="7.22" transform="rotate(-10 78.3 106.8)" fill="url(#nuc)"/><ellipse cx="114.9" cy="96.7" rx="5.22" ry="8.36" transform="rotate(0 114.9 96.7)" fill="url(#nuc)"/><ellipse cx="4.5" cy="105" rx="4.75" ry="7.60" transform="rotate(0 4.5 105)" fill="url(#nuc)"/><ellipse cx="22.9" cy="106.3" rx="8.36" ry="7.60" transform="rotate(0 22.9 106.3)" fill="url(#nuc)"/><ellipse cx="45.6" cy="112.6" rx="9.97" ry="7.22" transform="rotate(40 45.6 112.6)" fill="url(#nuc)"/><ellipse cx="14.1" cy="122.7" rx="7.22" ry="7.22" transform="rotate(0 14.1 122.7)" fill="url(#nuc)"/><ellipse cx="33" cy="129" rx="7.22" ry="4.75" transform="rotate(0 33 129)" fill="url(#nuc)"/><ellipse cx="92.2" cy="121.4" rx="9.12" ry="8.36" transform="rotate(0 92.2 121.4)" fill="url(#nuc)"/><ellipse cx="113.6" cy="124" rx="7.22" ry="7.22" transform="rotate(0 113.6 124)" fill="url(#nuc)"/><ellipse cx="1" cy="71" rx="2.85" ry="7.60" transform="rotate(0 1 71)" fill="url(#nuc)"/></g><g opacity="0.2" filter="url(#grain)"><ellipse cx="14.6" cy="20.7" rx="8.93" ry="6.84" transform="rotate(-30 14.6 20.7)" fill="#fff"/><ellipse cx="28" cy="30.7" rx="8.36" ry="7.60" transform="rotate(0 28 30.7)" fill="#fff"/><ellipse cx="53.9" cy="33.3" rx="7.22" ry="10.73" transform="rotate(-5 53.9 33.3)" fill="#fff"/><ellipse cx="77.4" cy="32.5" rx="9.97" ry="7.22" transform="rotate(35 77.4 32.5)" fill="#fff"/><ellipse cx="94.7" cy="18.2" rx="8.36" ry="6.65" transform="rotate(0 94.7 18.2)" fill="#fff"/><ellipse cx="103.1" cy="36.7" rx="7.60" ry="9.79" transform="rotate(40 103.1 36.7)" fill="#fff"/><ellipse cx="6.6" cy="42.8" rx="7.22" ry="7.89" transform="rotate(0 6.6 42.8)" fill="#fff"/><ellipse cx="41.3" cy="55.4" rx="10.45" ry="7.60" transform="rotate(35 41.3 55.4)" fill="#fff"/><ellipse cx="73.3" cy="59.7" rx="7.89" ry="10.26" transform="rotate(-10 73.3 59.7)" fill="#fff"/><ellipse cx="97.2" cy="63" rx="7.60" ry="9.50" transform="rotate(-20 97.2 63)" fill="#fff"/><ellipse cx="112.3" cy="53.9" rx="6.65" ry="8.36" transform="rotate(0 112.3 53.9)" fill="#fff"/><ellipse cx="29.2" cy="71.5" rx="7.89" ry="7.60" transform="rotate(0 29.2 71.5)" fill="#fff"/><ellipse cx="66.5" cy="79.1" rx="8.36" ry="7.22" transform="rotate(10 66.5 79.1)" fill="#fff"/><ellipse cx="101" cy="81.6" rx="10.26" ry="8.36" transform="rotate(-10 101 81.6)" fill="#fff"/><ellipse cx="14.1" cy="90" rx="9.12" ry="7.89" transform="rotate(10 14.1 90)" fill="#fff"/><ellipse cx="37.3" cy="87.4" rx="7.89" ry="7.60" transform="rotate(-20 37.3 87.4)" fill="#fff"/><ellipse cx="59.5" cy="98.8" rx="6.65" ry="7.89" transform="rotate(0 59.5 98.8)" fill="#fff"/><ellipse cx="78.3" cy="106.8" rx="9.50" ry="7.22" transform="rotate(-10 78.3 106.8)" fill="#fff"/><ellipse cx="114.9" cy="96.7" rx="5.22" ry="8.36" transform="rotate(0 114.9 96.7)" fill="#fff"/><ellipse cx="4.5" cy="105" rx="4.75" ry="7.60" transform="rotate(0 4.5 105)" fill="#fff"/><ellipse cx="22.9" cy="106.3" rx="8.36" ry="7.60" transform="rotate(0 22.9 106.3)" fill="#fff"/><ellipse cx="45.6" cy="112.6" rx="9.97" ry="7.22" transform="rotate(40 45.6 112.6)" fill="#fff"/><ellipse cx="14.1" cy="122.7" rx="7.22" ry="7.22" transform="rotate(0 14.1 122.7)" fill="#fff"/><ellipse cx="33" cy="129" rx="7.22" ry="4.75" transform="rotate(0 33 129)" fill="#fff"/><ellipse cx="92.2" cy="121.4" rx="9.12" ry="8.36" transform="rotate(0 92.2 121.4)" fill="#fff"/><ellipse cx="113.6" cy="124" rx="7.22" ry="7.22" transform="rotate(0 113.6 124)" fill="#fff"/><ellipse cx="1" cy="71" rx="2.85" ry="7.60" transform="rotate(0 1 71)" fill="#fff"/></g><circle cx="16.0" cy="113.8" r="0.76" fill="#a09a22" opacity="0.35"/><circle cx="59.0" cy="66.5" r="0.71" fill="#a09a22" opacity="0.57"/><circle cx="11.2" cy="16.4" r="0.78" fill="#a09a22" opacity="0.42"/><circle cx="90.7" cy="13.3" r="0.63" fill="#a09a22" opacity="0.54"/><circle cx="27.2" cy="125.5" r="0.81" fill="#a09a22" opacity="0.26"/><circle cx="3.0" cy="77.4" r="0.83" fill="#a09a22" opacity="0.40"/><circle cx="25.8" cy="63.2" r="0.46" fill="#a09a22" opacity="0.34"/><circle cx="52.1" cy="72.0" r="0.54" fill="#a09a22" opacity="0.34"/><circle cx="26.0" cy="67.7" r="0.57" fill="#a09a22" opacity="0.26"/><circle cx="99.7" cy="79.2" r="0.71" fill="#a09a22" opacity="0.32"/><circle cx="118.1" cy="115.3" r="0.50" fill="#a09a22" opacity="0.38"/><circle cx="85.9" cy="97.6" r="0.82" fill="#a09a22" opacity="0.42"/><circle cx="98.8" cy="92.8" r="0.57" fill="#a09a22" opacity="0.49"/><circle cx="105.0" cy="113.7" r="0.65" fill="#a09a22" opacity="0.49"/><circle cx="4.1" cy="41.9" r="0.77" fill="#a09a22" opacity="0.42"/><circle cx="20.6" cy="78.3" r="0.73" fill="#a09a22" opacity="0.52"/><circle cx="44.6" cy="65.2" r="0.65" fill="#a09a22" opacity="0.56"/><circle cx="62.0" cy="59.8" r="0.65" fill="#a09a22" opacity="0.26"/><circle cx="5.2" cy="96.7" r="0.84" fill="#a09a22" opacity="0.49"/><circle cx="46.8" cy="33.3" r="0.65" fill="#a09a22" opacity="0.64"/><circle cx="91.7" cy="77.2" r="0.79" fill="#a09a22" opacity="0.34"/><circle cx="61.1" cy="126.3" r="0.68" fill="#a09a22" opacity="0.43"/><circle cx="32.0" cy="78.2" r="0.83" fill="#a09a22" opacity="0.25"/><circle cx="93.3" cy="110.6" r="0.80" fill="#a09a22" opacity="0.55"/><circle cx="96.3" cy="74.7" r="0.67" fill="#a09a22" opacity="0.42"/><circle cx="6.7" cy="116.5" r="0.68" fill="#a09a22" opacity="0.33"/><circle cx="60.1" cy="70.7" r="0.59" fill="#a09a22" opacity="0.39"/><circle cx="64.1" cy="87.2" r="0.69" fill="#a09a22" opacity="0.43"/><circle cx="3.3" cy="40.3" r="0.52" fill="#a09a22" opacity="0.48"/><circle cx="102.5" cy="108.0" r="0.77" fill="#a09a22" opacity="0.58"/><circle cx="30.4" cy="113.2" r="0.72" fill="#a09a22" opacity="0.28"/><circle cx="2.0" cy="14.7" r="0.75" fill="#a09a22" opacity="0.35"/><circle cx="13.0" cy="87.4" r="0.59" fill="#a09a22" opacity="0.28"/><circle cx="19.0" cy="75.8" r="0.52" fill="#a09a22" opacity="0.36"/><circle cx="84.7" cy="67.1" r="0.58" fill="#a09a22" opacity="0.44"/><circle cx="2.8" cy="59.0" r="0.62" fill="#a09a22" opacity="0.33"/><circle cx="12.9" cy="120.1" r="0.65" fill="#a09a22" opacity="0.33"/><circle cx="72.1" cy="110.2" r="0.46" fill="#a09a22" opacity="0.26"/><circle cx="17.4" cy="98.5" r="0.51" fill="#a09a22" opacity="0.53"/><circle cx="80.7" cy="77.8" r="0.54" fill="#a09a22" opacity="0.64"/><circle cx="94.9" cy="74.5" r="0.54" fill="#a09a22" opacity="0.51"/><circle cx="47.0" cy="81.5" r="0.58" fill="#a09a22" opacity="0.50"/><circle cx="7.0" cy="48.5" r="0.84" fill="#a09a22" opacity="0.60"/><circle cx="36.5" cy="115.2" r="0.57" fill="#a09a22" opacity="0.63"/><circle cx="88.5" cy="62.5" r="0.55" fill="#a09a22" opacity="0.25"/><circle cx="104.6" cy="17.5" r="0.78" fill="#a09a22" opacity="0.63"/><circle cx="67.9" cy="33.4" r="0.80" fill="#a09a22" opacity="0.64"/><circle cx="83.8" cy="73.6" r="0.60" fill="#a09a22" opacity="0.39"/><circle cx="24.5" cy="93.2" r="0.62" fill="#a09a22" opacity="0.33"/><circle cx="12.4" cy="92.2" r="0.57" fill="#a09a22" opacity="0.45"/><circle cx="38.7" cy="116.7" r="0.81" fill="#a09a22" opacity="0.26"/><circle cx="23.9" cy="52.0" r="0.84" fill="#a09a22" opacity="0.56"/><circle cx="40.4" cy="38.4" r="0.72" fill="#a09a22" opacity="0.59"/><circle cx="110.9" cy="53.9" r="0.80" fill="#a09a22" opacity="0.52"/><circle cx="57.7" cy="130.3" r="0.54" fill="#a09a22" opacity="0.54"/><circle cx="10.1" cy="33.2" r="0.81" fill="#a09a22" opacity="0.34"/><circle cx="90.3" cy="84.4" r="0.79" fill="#a09a22" opacity="0.40"/><circle cx="40.5" cy="47.7" r="0.80" fill="#a09a22" opacity="0.49"/><circle cx="113.6" cy="118.6" r="0.50" fill="#a09a22" opacity="0.47"/><circle cx="12.4" cy="17.7" r="0.48" fill="#a09a22" opacity="0.60"/><circle cx="93.8" cy="111.6" r="0.59" fill="#a09a22" opacity="0.50"/><circle cx="93.0" cy="58.0" r="0.68" fill="#a09a22" opacity="0.34"/><circle cx="9.7" cy="44.7" r="0.81" fill="#a09a22" opacity="0.48"/><circle cx="110.1" cy="67.5" r="0.56" fill="#a09a22" opacity="0.56"/><circle cx="98.5" cy="14.5" r="0.72" fill="#a09a22" opacity="0.29"/><circle cx="13.7" cy="118.3" r="0.47" fill="#a09a22" opacity="0.35"/><circle cx="117.6" cy="63.1" r="0.50" fill="#a09a22" opacity="0.32"/><circle cx="28.7" cy="101.5" r="0.49" fill="#a09a22" opacity="0.61"/><circle cx="45.0" cy="128.5" r="0.81" fill="#a09a22" opacity="0.37"/><circle cx="30.2" cy="69.8" r="0.49" fill="#a09a22" opacity="0.51"/><circle cx="4.7" cy="14.3" r="0.84" fill="#a09a22" opacity="0.37"/><circle cx="71.0" cy="66.5" r="0.58" fill="#a09a22" opacity="0.28"/><circle cx="108.7" cy="128.4" r="0.84" fill="#a09a22" opacity="0.29"/><circle cx="25.6" cy="86.5" r="0.84" fill="#a09a22" opacity="0.47"/><circle cx="81.9" cy="91.8" r="0.55" fill="#a09a22" opacity="0.47"/><circle cx="36.6" cy="42.3" r="0.48" fill="#a09a22" opacity="0.36"/><circle cx="117.0" cy="66.3" r="0.71" fill="#a09a22" opacity="0.51"/><circle cx="111.9" cy="59.5" r="0.57" fill="#a09a22" opacity="0.38"/><circle cx="37.7" cy="113.8" r="0.81" fill="#a09a22" opacity="0.37"/><circle cx="39.8" cy="77.8" r="0.68" fill="#a09a22" opacity="0.49"/><circle cx="29.2" cy="15.4" r="0.55" fill="#a09a22" opacity="0.28"/><circle cx="65.6" cy="21.4" r="0.48" fill="#a09a22" opacity="0.50"/><circle cx="34.6" cy="107.3" r="0.65" fill="#a09a22" opacity="0.60"/><circle cx="18.3" cy="72.7" r="0.77" fill="#a09a22" opacity="0.28"/><circle cx="113.0" cy="33.6" r="0.76" fill="#a09a22" opacity="0.64"/><circle cx="97.8" cy="51.1" r="0.49" fill="#a09a22" opacity="0.46"/><circle cx="109.4" cy="47.9" r="0.81" fill="#a09a22" opacity="0.31"/><circle cx="108.3" cy="16.8" r="0.58" fill="#a09a22" opacity="0.61"/><circle cx="95.7" cy="121.0" r="0.79" fill="#a09a22" opacity="0.55"/><circle cx="82.1" cy="34.2" r="0.62" fill="#a09a22" opacity="0.31"/><circle cx="85.1" cy="92.5" r="0.55" fill="#a09a22" opacity="0.28"/><circle cx="114.6" cy="109.2" r="0.67" fill="#a09a22" opacity="0.47"/><circle cx="101.3" cy="66.9" r="0.61" fill="#a09a22" opacity="0.39"/><circle cx="30.7" cy="15.9" r="0.71" fill="#a09a22" opacity="0.42"/><circle cx="67.9" cy="20.4" r="0.59" fill="#a09a22" opacity="0.31"/><circle cx="14.9" cy="43.8" r="0.78" fill="#a09a22" opacity="0.41"/><circle cx="47.7" cy="85.9" r="0.54" fill="#a09a22" opacity="0.25"/><circle cx="62.9" cy="72.6" r="0.71" fill="#a09a22" opacity="0.43"/><circle cx="81.7" cy="100.0" r="0.55" fill="#a09a22" opacity="0.45"/><circle cx="57.0" cy="39.8" r="0.61" fill="#a09a22" opacity="0.47"/><circle cx="107.9" cy="122.2" r="0.56" fill="#a09a22" opacity="0.51"/><circle cx="5.7" cy="21.5" r="0.65" fill="#a09a22" opacity="0.60"/><circle cx="19.0" cy="104.2" r="0.80" fill="#a09a22" opacity="0.37"/><circle cx="82.4" cy="114.0" r="0.60" fill="#a09a22" opacity="0.53"/><circle cx="87.6" cy="83.8" r="0.79" fill="#a09a22" opacity="0.61"/><circle cx="114.2" cy="81.0" r="0.52" fill="#a09a22" opacity="0.35"/><circle cx="25.9" cy="80.8" r="0.75" fill="#a09a22" opacity="0.27"/><circle cx="81.1" cy="98.3" r="0.59" fill="#a09a22" opacity="0.46"/><circle cx="19.6" cy="99.9" r="0.47" fill="#a09a22" opacity="0.64"/><circle cx="96.1" cy="87.8" r="0.56" fill="#a09a22" opacity="0.62"/><circle cx="114.2" cy="29.6" r="0.76" fill="#a09a22" opacity="0.59"/><circle cx="78.5" cy="96.3" r="0.63" fill="#a09a22" opacity="0.62"/><circle cx="115.6" cy="58.5" r="0.77" fill="#a09a22" opacity="0.42"/><circle cx="19.6" cy="51.7" r="0.50" fill="#a09a22" opacity="0.61"/><circle cx="114.2" cy="27.2" r="0.69" fill="#a09a22" opacity="0.41"/><circle cx="14.1" cy="48.2" r="0.55" fill="#a09a22" opacity="0.55"/><circle cx="0.5" cy="35.6" r="0.63" fill="#a09a22" opacity="0.26"/><circle cx="74.7" cy="85.1" r="0.78" fill="#a09a22" opacity="0.33"/><circle cx="33.9" cy="77.5" r="0.56" fill="#a09a22" opacity="0.48"/><circle cx="29.9" cy="94.3" r="0.77" fill="#a09a22" opacity="0.57"/><circle cx="115.9" cy="77.9" r="0.65" fill="#a09a22" opacity="0.59"/><circle cx="91.5" cy="80.9" r="0.60" fill="#a09a22" opacity="0.36"/><circle cx="12.9" cy="109.1" r="0.50" fill="#a09a22" opacity="0.55"/><circle cx="64.9" cy="127.8" r="0.75" fill="#a09a22" opacity="0.64"/><circle cx="16.3" cy="72.5" r="0.68" fill="#a09a22" opacity="0.37"/><circle cx="59.9" cy="55.5" r="0.66" fill="#a09a22" opacity="0.25"/><circle cx="52.6" cy="66.5" r="0.57" fill="#a09a22" opacity="0.41"/><circle cx="93.2" cy="94.3" r="0.65" fill="#a09a22" opacity="0.51"/><circle cx="44.9" cy="37.3" r="0.45" fill="#a09a22" opacity="0.36"/><circle cx="71.2" cy="117.9" r="0.78" fill="#a09a22" opacity="0.45"/><circle cx="117.5" cy="67.9" r="0.78" fill="#a09a22" opacity="0.41"/><circle cx="88.6" cy="130.5" r="0.57" fill="#a09a22" opacity="0.32"/><circle cx="73.8" cy="76.2" r="0.59" fill="#a09a22" opacity="0.25"/><circle cx="46.3" cy="63.7" r="0.61" fill="#a09a22" opacity="0.59"/><circle cx="69.5" cy="100.3" r="0.81" fill="#a09a22" opacity="0.55"/><circle cx="58.6" cy="101.7" r="0.71" fill="#a09a22" opacity="0.51"/><circle cx="74.9" cy="61.4" r="0.70" fill="#a09a22" opacity="0.50"/><circle cx="111.5" cy="106.1" r="0.79" fill="#a09a22" opacity="0.56"/><circle cx="97.0" cy="85.1" r="0.59" fill="#a09a22" opacity="0.36"/><circle cx="84.3" cy="117.0" r="0.67" fill="#a09a22" opacity="0.31"/><circle cx="99.1" cy="70.7" r="0.64" fill="#a09a22" opacity="0.27"/><circle cx="60.7" cy="101.6" r="0.62" fill="#a09a22" opacity="0.39"/><circle cx="78.2" cy="15.3" r="0.65" fill="#a09a22" opacity="0.63"/><circle cx="82.2" cy="60.8" r="0.73" fill="#a09a22" opacity="0.49"/><circle cx="24.9" cy="37.7" r="0.80" fill="#a09a22" opacity="0.36"/><circle cx="8.9" cy="111.9" r="0.66" fill="#a09a22" opacity="0.40"/><circle cx="60.9" cy="100.7" r="0.52" fill="#a09a22" opacity="0.51"/><circle cx="84.9" cy="110.0" r="0.56" fill="#a09a22" opacity="0.49"/><circle cx="27.6" cy="79.8" r="0.52" fill="#a09a22" opacity="0.57"/><circle cx="103.1" cy="52.2" r="0.54" fill="#a09a22" opacity="0.64"/><circle cx="84.1" cy="113.4" r="0.46" fill="#a09a22" opacity="0.61"/><circle cx="74.1" cy="50.7" r="0.62" fill="#a09a22" opacity="0.55"/><circle cx="93.5" cy="35.6" r="0.70" fill="#a09a22" opacity="0.32"/><circle cx="115.8" cy="65.8" r="0.82" fill="#a09a22" opacity="0.54"/><circle cx="72.1" cy="44.2" r="0.66" fill="#a09a22" opacity="0.31"/><circle cx="16.4" cy="98.2" r="0.59" fill="#a09a22" opacity="0.55"/><circle cx="28.6" cy="98.5" r="0.74" fill="#a09a22" opacity="0.37"/><circle cx="12.7" cy="60.2" r="0.65" fill="#a09a22" opacity="0.29"/><circle cx="22.2" cy="19.6" r="0.69" fill="#a09a22" opacity="0.61"/><circle cx="25.8" cy="17.1" r="0.73" fill="#a09a22" opacity="0.58"/><circle cx="114.7" cy="86.0" r="0.59" fill="#a09a22" opacity="0.59"/><circle cx="14.0" cy="95.4" r="0.49" fill="#a09a22" opacity="0.41"/><circle cx="58.9" cy="58.0" r="0.52" fill="#a09a22" opacity="0.34"/><circle cx="97.6" cy="68.0" r="0.68" fill="#a09a22" opacity="0.33"/><circle cx="85.1" cy="52.3" r="0.69" fill="#a09a22" opacity="0.61"/><circle cx="118.3" cy="18.5" r="0.77" fill="#a09a22" opacity="0.59"/><circle cx="38.0" cy="58.6" r="0.68" fill="#a09a22" opacity="0.62"/><circle cx="47.6" cy="117.7" r="0.75" fill="#a09a22" opacity="0.31"/><circle cx="108.7" cy="14.8" r="0.51" fill="#a09a22" opacity="0.52"/><circle cx="6.8" cy="58.2" r="0.50" fill="#a09a22" opacity="0.44"/><circle cx="100.0" cy="120.8" r="0.46" fill="#a09a22" opacity="0.27"/><circle cx="100.0" cy="18.1" r="0.56" fill="#a09a22" opacity="0.30"/><circle cx="10.8" cy="16.3" r="0.71" fill="#a09a22" opacity="0.55"/><circle cx="81.7" cy="113.6" r="0.72" fill="#a09a22" opacity="0.41"/><circle cx="75.1" cy="128.4" r="0.71" fill="#a09a22" opacity="0.35"/><circle cx="7.2" cy="124.3" r="0.69" fill="#a09a22" opacity="0.39"/><circle cx="72.0" cy="79.7" r="0.66" fill="#a09a22" opacity="0.27"/><circle cx="42.0" cy="62.1" r="0.53" fill="#a09a22" opacity="0.60"/><circle cx="50.5" cy="91.8" r="0.74" fill="#a09a22" opacity="0.55"/><circle cx="85.8" cy="102.5" r="0.55" fill="#a09a22" opacity="0.64"/><circle cx="18.0" cy="122.3" r="0.79" fill="#a09a22" opacity="0.59"/><circle cx="6.3" cy="23.9" r="0.78" fill="#a09a22" opacity="0.44"/><circle cx="44.1" cy="130.2" r="0.47" fill="#a09a22" opacity="0.46"/><circle cx="52.8" cy="28.3" r="0.61" fill="#a09a22" opacity="0.53"/><circle cx="105.0" cy="15.9" r="0.66" fill="#a09a22" opacity="0.29"/><circle cx="95.2" cy="23.2" r="0.46" fill="#a09a22" opacity="0.40"/><circle cx="87.2" cy="50.3" r="0.50" fill="#a09a22" opacity="0.57"/><circle cx="96.0" cy="114.8" r="0.57" fill="#a09a22" opacity="0.42"/><circle cx="29.2" cy="79.3" r="0.58" fill="#a09a22" opacity="0.39"/><circle cx="93.3" cy="126.8" r="0.68" fill="#a09a22" opacity="0.29"/><circle cx="77.7" cy="66.4" r="0.85" fill="#a09a22" opacity="0.54"/><circle cx="99.3" cy="96.5" r="0.66" fill="#a09a22" opacity="0.61"/><circle cx="99.0" cy="47.7" r="0.51" fill="#a09a22" opacity="0.40"/><circle cx="62.0" cy="24.6" r="0.59" fill="#a09a22" opacity="0.48"/><circle cx="5.2" cy="110.0" r="0.71" fill="#a09a22" opacity="0.38"/><circle cx="35.5" cy="55.0" r="0.58" fill="#a09a22" opacity="0.55"/><circle cx="59.6" cy="75.6" r="0.51" fill="#a09a22" opacity="0.62"/><circle cx="38.7" cy="52.0" r="0.48" fill="#a09a22" opacity="0.64"/><circle cx="57.1" cy="121.6" r="0.82" fill="#a09a22" opacity="0.64"/><circle cx="97.1" cy="123.1" r="0.82" fill="#a09a22" opacity="0.57"/><circle cx="16.0" cy="75.3" r="0.68" fill="#a09a22" opacity="0.65"/><circle cx="93.3" cy="96.6" r="0.75" fill="#a09a22" opacity="0.39"/><circle cx="112.1" cy="89.6" r="0.61" fill="#a09a22" opacity="0.44"/><circle cx="116.6" cy="76.3" r="0.52" fill="#a09a22" opacity="0.31"/><circle cx="81.8" cy="80.0" r="0.81" fill="#a09a22" opacity="0.32"/><circle cx="48.9" cy="99.6" r="0.47" fill="#a09a22" opacity="0.29"/><circle cx="64.9" cy="44.6" r="0.49" fill="#a09a22" opacity="0.35"/><circle cx="75.2" cy="75.6" r="0.48" fill="#a09a22" opacity="0.28"/><circle cx="101.2" cy="89.5" r="0.52" fill="#a09a22" opacity="0.59"/><circle cx="2.6" cy="56.8" r="0.79" fill="#a09a22" opacity="0.53"/><circle cx="33.8" cy="119.1" r="0.69" fill="#a09a22" opacity="0.60"/><circle cx="106.2" cy="63.6" r="0.72" fill="#a09a22" opacity="0.47"/><circle cx="112.4" cy="108.0" r="0.74" fill="#a09a22" opacity="0.58"/><circle cx="118.8" cy="43.5" r="0.53" fill="#a09a22" opacity="0.55"/><circle cx="91.7" cy="74.2" r="0.64" fill="#a09a22" opacity="0.41"/><circle cx="105.0" cy="107.8" r="0.68" fill="#a09a22" opacity="0.27"/><circle cx="101.3" cy="67.6" r="0.53" fill="#a09a22" opacity="0.37"/><circle cx="82.3" cy="13.7" r="0.50" fill="#a09a22" opacity="0.37"/><circle cx="105.6" cy="101.9" r="0.84" fill="#a09a22" opacity="0.47"/><circle cx="68.1" cy="78.6" r="0.66" fill="#a09a22" opacity="0.47"/><rect x="0" y="0" width="119.7" height="12.8" fill="url(#tops)"/><rect x="0" y="0.8" width="119.7" height="9.5" filter="url(#vst)" opacity="0.55"/><rect x="119.7" y="12.2" width="12.3" height="120" fill="url(#rts)"/><rect x="123.5" y="12.2" width="8" height="120" filter="url(#hst)" opacity="0.55"/><rect x="119.7" y="0" width="12.3" height="12.2" fill="#000"/></svg><svg x="139.7" y="377.9" width="131.2" height="132" viewBox="0 0 131.2 132" overflow="hidden"><rect width="131.2" height="132" fill="#091812"/><g filter="url(#soft)"><ellipse cx="17.4" cy="25.3" rx="9.31" ry="10.92" transform="rotate(20 17.4 25.3)" fill="url(#nuc)"/><ellipse cx="75.1" cy="18.2" rx="9.12" ry="6.65" transform="rotate(0 75.1 18.2)" fill="url(#nuc)"/><ellipse cx="104.1" cy="15.6" rx="5.98" ry="4.27" transform="rotate(0 104.1 15.6)" fill="url(#nuc)"/><ellipse cx="36.1" cy="45.9" rx="8.36" ry="7.89" transform="rotate(0 36.1 45.9)" fill="url(#nuc)"/><ellipse cx="81.9" cy="47.9" rx="10.07" ry="8.36" transform="rotate(35 81.9 47.9)" fill="url(#nuc)"/><ellipse cx="113.7" cy="38.3" rx="5.98" ry="8.36" transform="rotate(0 113.7 38.3)" fill="url(#nuc)"/><ellipse cx="21" cy="64.8" rx="7.89" ry="7.60" transform="rotate(0 21 64.8)" fill="url(#nuc)"/><ellipse cx="63.3" cy="64" rx="8.36" ry="9.12" transform="rotate(0 63.3 64)" fill="url(#nuc)"/><ellipse cx="41.6" cy="71.6" rx="8.36" ry="7.60" transform="rotate(0 41.6 71.6)" fill="url(#nuc)"/><ellipse cx="2.1" cy="69.8" rx="2.85" ry="8.36" transform="rotate(0 2.1 69.8)" fill="url(#nuc)"/><ellipse cx="99.1" cy="78.1" rx="9.12" ry="10.73" transform="rotate(-30 99.1 78.1)" fill="url(#nuc)"/><ellipse cx="48.7" cy="89.9" rx="9.12" ry="7.89" transform="rotate(0 48.7 89.9)" fill="url(#nuc)"/><ellipse cx="78.9" cy="94.2" rx="7.60" ry="7.89" transform="rotate(0 78.9 94.2)" fill="url(#nuc)"/><ellipse cx="4.6" cy="110.1" rx="4.75" ry="7.22" transform="rotate(0 4.6 110.1)" fill="url(#nuc)"/><ellipse cx="21.5" cy="108.8" rx="9.12" ry="7.89" transform="rotate(20 21.5 108.8)" fill="url(#nuc)"/><ellipse cx="57.5" cy="110.1" rx="10.07" ry="9.50" transform="rotate(0 57.5 110.1)" fill="url(#nuc)"/><ellipse cx="91.5" cy="113.9" rx="8.36" ry="7.89" transform="rotate(0 91.5 113.9)" fill="url(#nuc)"/><ellipse cx="95.3" cy="129" rx="10.73" ry="4.27" transform="rotate(0 95.3 129)" fill="url(#nuc)"/><ellipse cx="48.7" cy="130" rx="8.36" ry="2.85" transform="rotate(0 48.7 130)" fill="url(#nuc)"/><ellipse cx="112.9" cy="52.2" rx="4.27" ry="4.75" transform="rotate(0 112.9 52.2)" fill="url(#nuc)"/><ellipse cx="116.7" cy="18.2" rx="4.75" ry="6.65" transform="rotate(0 116.7 18.2)" fill="url(#nuc)"/></g><g opacity="0.2" filter="url(#grain)"><ellipse cx="17.4" cy="25.3" rx="9.31" ry="10.92" transform="rotate(20 17.4 25.3)" fill="#fff"/><ellipse cx="75.1" cy="18.2" rx="9.12" ry="6.65" transform="rotate(0 75.1 18.2)" fill="#fff"/><ellipse cx="104.1" cy="15.6" rx="5.98" ry="4.27" transform="rotate(0 104.1 15.6)" fill="#fff"/><ellipse cx="36.1" cy="45.9" rx="8.36" ry="7.89" transform="rotate(0 36.1 45.9)" fill="#fff"/><ellipse cx="81.9" cy="47.9" rx="10.07" ry="8.36" transform="rotate(35 81.9 47.9)" fill="#fff"/><ellipse cx="113.7" cy="38.3" rx="5.98" ry="8.36" transform="rotate(0 113.7 38.3)" fill="#fff"/><ellipse cx="21" cy="64.8" rx="7.89" ry="7.60" transform="rotate(0 21 64.8)" fill="#fff"/><ellipse cx="63.3" cy="64" rx="8.36" ry="9.12" transform="rotate(0 63.3 64)" fill="#fff"/><ellipse cx="41.6" cy="71.6" rx="8.36" ry="7.60" transform="rotate(0 41.6 71.6)" fill="#fff"/><ellipse cx="2.1" cy="69.8" rx="2.85" ry="8.36" transform="rotate(0 2.1 69.8)" fill="#fff"/><ellipse cx="99.1" cy="78.1" rx="9.12" ry="10.73" transform="rotate(-30 99.1 78.1)" fill="#fff"/><ellipse cx="48.7" cy="89.9" rx="9.12" ry="7.89" transform="rotate(0 48.7 89.9)" fill="#fff"/><ellipse cx="78.9" cy="94.2" rx="7.60" ry="7.89" transform="rotate(0 78.9 94.2)" fill="#fff"/><ellipse cx="4.6" cy="110.1" rx="4.75" ry="7.22" transform="rotate(0 4.6 110.1)" fill="#fff"/><ellipse cx="21.5" cy="108.8" rx="9.12" ry="7.89" transform="rotate(20 21.5 108.8)" fill="#fff"/><ellipse cx="57.5" cy="110.1" rx="10.07" ry="9.50" transform="rotate(0 57.5 110.1)" fill="#fff"/><ellipse cx="91.5" cy="113.9" rx="8.36" ry="7.89" transform="rotate(0 91.5 113.9)" fill="#fff"/><ellipse cx="95.3" cy="129" rx="10.73" ry="4.27" transform="rotate(0 95.3 129)" fill="#fff"/><ellipse cx="48.7" cy="130" rx="8.36" ry="2.85" transform="rotate(0 48.7 130)" fill="#fff"/><ellipse cx="112.9" cy="52.2" rx="4.27" ry="4.75" transform="rotate(0 112.9 52.2)" fill="#fff"/><ellipse cx="116.7" cy="18.2" rx="4.75" ry="6.65" transform="rotate(0 116.7 18.2)" fill="#fff"/></g><circle cx="113.0" cy="125.8" r="0.47" fill="#a09a22" opacity="0.28"/><circle cx="98.8" cy="100.6" r="0.72" fill="#a09a22" opacity="0.37"/><circle cx="71.6" cy="85.2" r="0.68" fill="#a09a22" opacity="0.31"/><circle cx="50.9" cy="59.8" r="0.74" fill="#a09a22" opacity="0.65"/><circle cx="112.2" cy="77.8" r="0.63" fill="#a09a22" opacity="0.36"/><circle cx="4.2" cy="16.3" r="0.64" fill="#a09a22" opacity="0.38"/><circle cx="44.9" cy="119.1" r="0.66" fill="#a09a22" opacity="0.47"/><circle cx="27.9" cy="15.8" r="0.58" fill="#a09a22" opacity="0.30"/><circle cx="60.3" cy="131.8" r="0.72" fill="#a09a22" opacity="0.32"/><circle cx="105.6" cy="107.8" r="0.74" fill="#a09a22" opacity="0.61"/><circle cx="90.2" cy="107.0" r="0.59" fill="#a09a22" opacity="0.64"/><circle cx="113.7" cy="32.2" r="0.75" fill="#a09a22" opacity="0.54"/><circle cx="54.5" cy="76.1" r="0.65" fill="#a09a22" opacity="0.62"/><circle cx="59.2" cy="112.0" r="0.59" fill="#a09a22" opacity="0.60"/><circle cx="106.3" cy="67.9" r="0.68" fill="#a09a22" opacity="0.62"/><circle cx="85.5" cy="70.9" r="0.54" fill="#a09a22" opacity="0.38"/><circle cx="82.7" cy="32.8" r="0.81" fill="#a09a22" opacity="0.36"/><circle cx="107.7" cy="49.8" r="0.83" fill="#a09a22" opacity="0.53"/><circle cx="59.6" cy="74.6" r="0.71" fill="#a09a22" opacity="0.49"/><circle cx="36.9" cy="37.7" r="0.65" fill="#a09a22" opacity="0.62"/><circle cx="73.7" cy="22.0" r="0.78" fill="#a09a22" opacity="0.54"/><circle cx="107.3" cy="35.8" r="0.75" fill="#a09a22" opacity="0.27"/><circle cx="77.2" cy="45.5" r="0.54" fill="#a09a22" opacity="0.60"/><circle cx="12.6" cy="75.2" r="0.79" fill="#a09a22" opacity="0.35"/><circle cx="24.9" cy="117.8" r="0.62" fill="#a09a22" opacity="0.54"/><circle cx="3.8" cy="56.1" r="0.52" fill="#a09a22" opacity="0.52"/><circle cx="9.8" cy="126.6" r="0.46" fill="#a09a22" opacity="0.54"/><circle cx="2.5" cy="43.4" r="0.78" fill="#a09a22" opacity="0.31"/><circle cx="21.7" cy="95.3" r="0.60" fill="#a09a22" opacity="0.27"/><circle cx="117.0" cy="31.0" r="0.46" fill="#a09a22" opacity="0.39"/><circle cx="72.7" cy="101.4" r="0.50" fill="#a09a22" opacity="0.38"/><circle cx="3.6" cy="66.4" r="0.76" fill="#a09a22" opacity="0.55"/><circle cx="106.6" cy="102.9" r="0.79" fill="#a09a22" opacity="0.53"/><circle cx="55.9" cy="39.8" r="0.71" fill="#a09a22" opacity="0.38"/><circle cx="12.1" cy="66.3" r="0.80" fill="#a09a22" opacity="0.30"/><circle cx="69.1" cy="59.8" r="0.66" fill="#a09a22" opacity="0.31"/><circle cx="113.4" cy="43.8" r="0.69" fill="#a09a22" opacity="0.42"/><circle cx="2.1" cy="79.4" r="0.51" fill="#a09a22" opacity="0.27"/><circle cx="4.0" cy="32.2" r="0.49" fill="#a09a22" opacity="0.50"/><circle cx="60.1" cy="130.0" r="0.82" fill="#a09a22" opacity="0.65"/><rect x="0" y="0" width="118.89999999999999" height="12.8" fill="url(#tops)"/><rect x="0" y="0.8" width="118.89999999999999" height="9.5" filter="url(#vst)" opacity="0.55"/><rect x="118.89999999999999" y="12.2" width="12.3" height="120" fill="url(#rts)"/><rect x="122.69999999999999" y="12.2" width="8" height="120" filter="url(#hst)" opacity="0.55"/><rect x="118.89999999999999" y="0" width="12.3" height="12.2" fill="#000"/></svg><svg x="273.7" y="377.9" width="132" height="132" viewBox="0 0 132 132" overflow="hidden"><rect width="132" height="132" fill="#0a1812"/><ellipse cx="111.7" cy="28.2" rx="7.6" ry="8.8" transform="rotate(0 111.7 28.2)" fill="url(#nucd)"/><ellipse cx="62.5" cy="126.5" rx="7.6" ry="5" transform="rotate(0 62.5 126.5)" fill="url(#nucd)"/><ellipse cx="99" cy="15.6" rx="8" ry="5" transform="rotate(0 99 15.6)" fill="url(#nucd)"/><g filter="url(#soft)"><ellipse cx="7.1" cy="18.2" rx="6.65" ry="5.22" transform="rotate(0 7.1 18.2)" fill="url(#nuc3)"/><ellipse cx="29" cy="18.2" rx="9.50" ry="5.98" transform="rotate(0 29 18.2)" fill="url(#nuc3)"/><ellipse cx="71.3" cy="19.4" rx="7.60" ry="7.22" transform="rotate(0 71.3 19.4)" fill="url(#nuc3)"/><ellipse cx="61.3" cy="30.7" rx="7.60" ry="7.60" transform="rotate(0 61.3 30.7)" fill="url(#nuc3)"/><ellipse cx="83.9" cy="29.5" rx="5.98" ry="7.22" transform="rotate(0 83.9 29.5)" fill="url(#nuc3)"/><ellipse cx="107.9" cy="48.4" rx="6.65" ry="8.36" transform="rotate(0 107.9 48.4)" fill="url(#nuc3)"/><ellipse cx="7.1" cy="37" rx="6.65" ry="7.60" transform="rotate(0 7.1 37)" fill="url(#nuc3)"/><ellipse cx="41.1" cy="42.1" rx="8.36" ry="9.50" transform="rotate(-10 41.1 42.1)" fill="url(#nuc3)"/><ellipse cx="34.8" cy="63.5" rx="11.40" ry="8.36" transform="rotate(0 34.8 63.5)" fill="url(#nuc3)"/><ellipse cx="91.4" cy="59.6" rx="9.03" ry="4.56" transform="rotate(-35 91.4 59.6)" fill="url(#nuc3)"/><ellipse cx="88.5" cy="58" rx="2.85" ry="3.32" transform="rotate(0 88.5 58)" fill="url(#nuc3)"/><ellipse cx="94.5" cy="57.5" rx="2.85" ry="2.85" transform="rotate(0 94.5 57.5)" fill="url(#nuc3)"/><ellipse cx="68.8" cy="65.8" rx="6.84" ry="4.94" transform="rotate(-15 68.8 65.8)" fill="url(#nuc3)"/><ellipse cx="63.5" cy="75.5" rx="4.37" ry="5.22" transform="rotate(0 63.5 75.5)" fill="url(#nuc3)"/><ellipse cx="4.6" cy="71" rx="5.22" ry="9.12" transform="rotate(0 4.6 71)" fill="url(#nuc3)"/><ellipse cx="75.6" cy="83" rx="4.18" ry="5.32" transform="rotate(0 75.6 83)" fill="url(#nuc3)"/><ellipse cx="80" cy="92.8" rx="5.70" ry="7.89" transform="rotate(-8 80 92.8)" fill="url(#nuc3)"/><ellipse cx="28" cy="88.7" rx="8.36" ry="7.60" transform="rotate(0 28 88.7)" fill="url(#nuc3)"/><ellipse cx="51.5" cy="95" rx="7.60" ry="8.07" transform="rotate(0 51.5 95)" fill="url(#nuc3)"/><ellipse cx="94" cy="97.5" rx="6.65" ry="10.07" transform="rotate(0 94 97.5)" fill="url(#nuc3)"/><ellipse cx="112.9" cy="91.2" rx="5.22" ry="9.50" transform="rotate(0 112.9 91.2)" fill="url(#nuc3)"/><ellipse cx="13.9" cy="103.8" rx="8.36" ry="8.36" transform="rotate(0 13.9 103.8)" fill="url(#nuc3)"/><ellipse cx="44.9" cy="115.1" rx="9.12" ry="7.22" transform="rotate(0 44.9 115.1)" fill="url(#nuc3)"/><ellipse cx="82.7" cy="118.9" rx="8.36" ry="7.22" transform="rotate(0 82.7 118.9)" fill="url(#nuc3)"/><ellipse cx="111.7" cy="118.9" rx="6.65" ry="9.12" transform="rotate(-20 111.7 118.9)" fill="url(#nuc3)"/><ellipse cx="20.5" cy="127.7" rx="7.22" ry="3.61" transform="rotate(0 20.5 127.7)" fill="url(#nuc3)"/></g><g opacity="0.2" filter="url(#grain)"><ellipse cx="7.1" cy="18.2" rx="6.65" ry="5.22" transform="rotate(0 7.1 18.2)" fill="#fff"/><ellipse cx="29" cy="18.2" rx="9.50" ry="5.98" transform="rotate(0 29 18.2)" fill="#fff"/><ellipse cx="71.3" cy="19.4" rx="7.60" ry="7.22" transform="rotate(0 71.3 19.4)" fill="#fff"/><ellipse cx="61.3" cy="30.7" rx="7.60" ry="7.60" transform="rotate(0 61.3 30.7)" fill="#fff"/><ellipse cx="83.9" cy="29.5" rx="5.98" ry="7.22" transform="rotate(0 83.9 29.5)" fill="#fff"/><ellipse cx="107.9" cy="48.4" rx="6.65" ry="8.36" transform="rotate(0 107.9 48.4)" fill="#fff"/><ellipse cx="7.1" cy="37" rx="6.65" ry="7.60" transform="rotate(0 7.1 37)" fill="#fff"/><ellipse cx="41.1" cy="42.1" rx="8.36" ry="9.50" transform="rotate(-10 41.1 42.1)" fill="#fff"/><ellipse cx="34.8" cy="63.5" rx="11.40" ry="8.36" transform="rotate(0 34.8 63.5)" fill="#fff"/><ellipse cx="91.4" cy="59.6" rx="9.03" ry="4.56" transform="rotate(-35 91.4 59.6)" fill="#fff"/><ellipse cx="88.5" cy="58" rx="2.85" ry="3.32" transform="rotate(0 88.5 58)" fill="#fff"/><ellipse cx="94.5" cy="57.5" rx="2.85" ry="2.85" transform="rotate(0 94.5 57.5)" fill="#fff"/><ellipse cx="68.8" cy="65.8" rx="6.84" ry="4.94" transform="rotate(-15 68.8 65.8)" fill="#fff"/><ellipse cx="63.5" cy="75.5" rx="4.37" ry="5.22" transform="rotate(0 63.5 75.5)" fill="#fff"/><ellipse cx="4.6" cy="71" rx="5.22" ry="9.12" transform="rotate(0 4.6 71)" fill="#fff"/><ellipse cx="75.6" cy="83" rx="4.18" ry="5.32" transform="rotate(0 75.6 83)" fill="#fff"/><ellipse cx="80" cy="92.8" rx="5.70" ry="7.89" transform="rotate(-8 80 92.8)" fill="#fff"/><ellipse cx="28" cy="88.7" rx="8.36" ry="7.60" transform="rotate(0 28 88.7)" fill="#fff"/><ellipse cx="51.5" cy="95" rx="7.60" ry="8.07" transform="rotate(0 51.5 95)" fill="#fff"/><ellipse cx="94" cy="97.5" rx="6.65" ry="10.07" transform="rotate(0 94 97.5)" fill="#fff"/><ellipse cx="112.9" cy="91.2" rx="5.22" ry="9.50" transform="rotate(0 112.9 91.2)" fill="#fff"/><ellipse cx="13.9" cy="103.8" rx="8.36" ry="8.36" transform="rotate(0 13.9 103.8)" fill="#fff"/><ellipse cx="44.9" cy="115.1" rx="9.12" ry="7.22" transform="rotate(0 44.9 115.1)" fill="#fff"/><ellipse cx="82.7" cy="118.9" rx="8.36" ry="7.22" transform="rotate(0 82.7 118.9)" fill="#fff"/><ellipse cx="111.7" cy="118.9" rx="6.65" ry="9.12" transform="rotate(-20 111.7 118.9)" fill="#fff"/><ellipse cx="20.5" cy="127.7" rx="7.22" ry="3.61" transform="rotate(0 20.5 127.7)" fill="#fff"/></g><circle cx="28.3" cy="77.8" r="0.60" fill="#a09a22" opacity="0.49"/><circle cx="74.5" cy="20.8" r="0.46" fill="#a09a22" opacity="0.58"/><circle cx="30.9" cy="40.9" r="0.85" fill="#a09a22" opacity="0.44"/><circle cx="99.5" cy="69.7" r="0.71" fill="#a09a22" opacity="0.31"/><circle cx="75.5" cy="116.3" r="0.66" fill="#a09a22" opacity="0.55"/><circle cx="79.9" cy="20.6" r="0.75" fill="#a09a22" opacity="0.49"/><circle cx="35.9" cy="16.7" r="0.80" fill="#a09a22" opacity="0.44"/><circle cx="85.5" cy="117.6" r="0.74" fill="#a09a22" opacity="0.62"/><circle cx="47.0" cy="108.3" r="0.63" fill="#a09a22" opacity="0.62"/><circle cx="104.6" cy="24.6" r="0.50" fill="#a09a22" opacity="0.34"/><circle cx="114.9" cy="64.9" r="0.70" fill="#a09a22" opacity="0.37"/><circle cx="60.4" cy="58.9" r="0.59" fill="#a09a22" opacity="0.48"/><circle cx="69.5" cy="120.6" r="0.72" fill="#a09a22" opacity="0.62"/><circle cx="101.9" cy="130.9" r="0.72" fill="#a09a22" opacity="0.32"/><circle cx="102.4" cy="127.8" r="0.81" fill="#a09a22" opacity="0.48"/><circle cx="84.9" cy="38.1" r="0.78" fill="#a09a22" opacity="0.48"/><circle cx="33.9" cy="20.6" r="0.79" fill="#a09a22" opacity="0.65"/><circle cx="10.5" cy="108.3" r="0.61" fill="#a09a22" opacity="0.31"/><circle cx="35.0" cy="104.5" r="0.80" fill="#a09a22" opacity="0.27"/><circle cx="73.1" cy="18.3" r="0.74" fill="#a09a22" opacity="0.38"/><circle cx="104.8" cy="129.7" r="0.65" fill="#a09a22" opacity="0.65"/><circle cx="36.9" cy="22.2" r="0.69" fill="#a09a22" opacity="0.26"/><circle cx="23.5" cy="61.5" r="0.69" fill="#a09a22" opacity="0.31"/><circle cx="5.0" cy="116.3" r="0.58" fill="#a09a22" opacity="0.63"/><circle cx="106.7" cy="58.0" r="0.63" fill="#a09a22" opacity="0.46"/><circle cx="76.6" cy="83.9" r="0.67" fill="#a09a22" opacity="0.50"/><circle cx="111.9" cy="73.3" r="0.62" fill="#a09a22" opacity="0.54"/><circle cx="28.3" cy="48.8" r="0.84" fill="#a09a22" opacity="0.46"/><circle cx="65.3" cy="14.4" r="0.62" fill="#a09a22" opacity="0.48"/><circle cx="2.4" cy="86.3" r="0.70" fill="#a09a22" opacity="0.27"/><circle cx="74.7" cy="68.5" r="0.72" fill="#a09a22" opacity="0.39"/><circle cx="84.1" cy="100.8" r="0.46" fill="#a09a22" opacity="0.27"/><circle cx="80.4" cy="127.6" r="0.55" fill="#a09a22" opacity="0.43"/><circle cx="70.5" cy="51.1" r="0.60" fill="#a09a22" opacity="0.38"/><circle cx="43.9" cy="83.9" r="0.57" fill="#a09a22" opacity="0.40"/><circle cx="91.9" cy="16.2" r="0.68" fill="#a09a22" opacity="0.54"/><circle cx="36.9" cy="39.5" r="0.77" fill="#a09a22" opacity="0.35"/><circle cx="22.3" cy="64.8" r="0.73" fill="#a09a22" opacity="0.29"/><circle cx="38.3" cy="52.7" r="0.78" fill="#a09a22" opacity="0.43"/><circle cx="101.8" cy="33.1" r="0.58" fill="#a09a22" opacity="0.51"/><circle cx="105.3" cy="66.7" r="0.54" fill="#a09a22" opacity="0.30"/><circle cx="63.0" cy="35.7" r="0.77" fill="#a09a22" opacity="0.59"/><circle cx="21.8" cy="46.2" r="0.77" fill="#a09a22" opacity="0.51"/><circle cx="95.9" cy="54.1" r="0.50" fill="#a09a22" opacity="0.37"/><circle cx="94.5" cy="45.3" r="0.59" fill="#a09a22" opacity="0.42"/><circle cx="50.0" cy="61.7" r="0.82" fill="#a09a22" opacity="0.31"/><circle cx="0.6" cy="125.2" r="0.80" fill="#a09a22" opacity="0.64"/><circle cx="51.7" cy="126.1" r="0.82" fill="#a09a22" opacity="0.34"/><circle cx="88.7" cy="112.6" r="0.72" fill="#a09a22" opacity="0.46"/><circle cx="34.4" cy="53.6" r="0.54" fill="#a09a22" opacity="0.28"/><circle cx="70.1" cy="47.2" r="0.77" fill="#a09a22" opacity="0.27"/><circle cx="107.5" cy="95.6" r="0.82" fill="#a09a22" opacity="0.61"/><circle cx="107.1" cy="81.7" r="0.46" fill="#a09a22" opacity="0.55"/><circle cx="20.4" cy="48.7" r="0.72" fill="#a09a22" opacity="0.46"/><circle cx="49.2" cy="124.7" r="0.69" fill="#a09a22" opacity="0.39"/><circle cx="30.0" cy="115.5" r="0.64" fill="#a09a22" opacity="0.56"/><circle cx="41.9" cy="36.5" r="0.66" fill="#a09a22" opacity="0.58"/><circle cx="20.4" cy="107.2" r="0.82" fill="#a09a22" opacity="0.57"/><circle cx="98.0" cy="13.9" r="0.70" fill="#a09a22" opacity="0.60"/><circle cx="5.9" cy="45.3" r="0.56" fill="#a09a22" opacity="0.46"/><circle cx="50.3" cy="69.3" r="0.76" fill="#a09a22" opacity="0.25"/><circle cx="6.5" cy="28.1" r="0.50" fill="#a09a22" opacity="0.28"/><circle cx="116.0" cy="114.7" r="0.48" fill="#a09a22" opacity="0.45"/><circle cx="37.6" cy="50.4" r="0.59" fill="#a09a22" opacity="0.51"/><circle cx="69.8" cy="55.9" r="0.53" fill="#a09a22" opacity="0.38"/><circle cx="14.7" cy="79.1" r="0.74" fill="#a09a22" opacity="0.40"/><circle cx="9.5" cy="34.2" r="0.60" fill="#a09a22" opacity="0.49"/><circle cx="93.1" cy="58.3" r="0.77" fill="#a09a22" opacity="0.50"/><circle cx="51.4" cy="57.3" r="0.65" fill="#a09a22" opacity="0.53"/><circle cx="50.0" cy="95.6" r="0.63" fill="#a09a22" opacity="0.35"/><circle cx="63.8" cy="95.7" r="0.48" fill="#a09a22" opacity="0.42"/><circle cx="50.7" cy="117.7" r="0.82" fill="#a09a22" opacity="0.40"/><circle cx="106.8" cy="107.1" r="0.55" fill="#a09a22" opacity="0.44"/><circle cx="14.7" cy="109.8" r="0.71" fill="#a09a22" opacity="0.60"/><circle cx="94.3" cy="92.4" r="0.74" fill="#a09a22" opacity="0.48"/><circle cx="12.3" cy="82.9" r="0.45" fill="#a09a22" opacity="0.31"/><circle cx="92.1" cy="18.3" r="0.49" fill="#a09a22" opacity="0.29"/><circle cx="104.8" cy="34.3" r="0.46" fill="#a09a22" opacity="0.59"/><circle cx="14.4" cy="113.4" r="0.72" fill="#a09a22" opacity="0.58"/><circle cx="113.3" cy="81.9" r="0.77" fill="#a09a22" opacity="0.26"/><circle cx="91.3" cy="73.8" r="0.74" fill="#a09a22" opacity="0.29"/><circle cx="89.1" cy="124.2" r="0.47" fill="#a09a22" opacity="0.38"/><circle cx="67.1" cy="111.5" r="0.55" fill="#a09a22" opacity="0.32"/><circle cx="29.7" cy="86.3" r="0.75" fill="#a09a22" opacity="0.41"/><circle cx="43.7" cy="60.2" r="0.59" fill="#a09a22" opacity="0.42"/><circle cx="9.9" cy="72.5" r="0.84" fill="#a09a22" opacity="0.42"/><circle cx="88.9" cy="32.1" r="0.73" fill="#a09a22" opacity="0.55"/><circle cx="80.2" cy="74.5" r="0.64" fill="#a09a22" opacity="0.51"/><circle cx="106.8" cy="30.8" r="0.49" fill="#a09a22" opacity="0.55"/><circle cx="109.1" cy="74.6" r="0.63" fill="#a09a22" opacity="0.54"/><rect x="0" y="0" width="119.7" height="12.8" fill="url(#tops)"/><rect x="0" y="0.8" width="119.7" height="9.5" filter="url(#vst)" opacity="0.55"/><rect x="29" y="0.5" width="6" height="11" fill="#12302a" opacity="0.5"/><rect x="99" y="0.5" width="5" height="11" fill="#12302a" opacity="0.5"/><rect x="119.7" y="12.2" width="12.3" height="120" fill="url(#rts)"/><rect x="123.5" y="12.2" width="8" height="120" filter="url(#hst)" opacity="0.55"/><rect x="119.7" y="0" width="12.3" height="12.2" fill="#000"/></svg><text x="38.60" y="370" font-size="11.2" textLength="56.99" lengthAdjust="spacingAndGlyphs" fill="#231815" >BL2-14(S)</text><text x="164.09" y="370" font-size="11.2" textLength="76.10" lengthAdjust="spacingAndGlyphs" fill="#231815" >BL2-UU25(S)</text><text x="311.79" y="370" font-size="11.2" textLength="59.71" lengthAdjust="spacingAndGlyphs" fill="#231815" >5U-BL2(S)</text><line x1="7.3" y1="520.8" x2="23.2" y2="520.8" stroke="#231815" stroke-width="1.7"/><text x="4.98" y="533.8" font-size="8.8" textLength="26.73" lengthAdjust="spacingAndGlyphs" fill="#231815" >10 µm</text></svg></body></html>
